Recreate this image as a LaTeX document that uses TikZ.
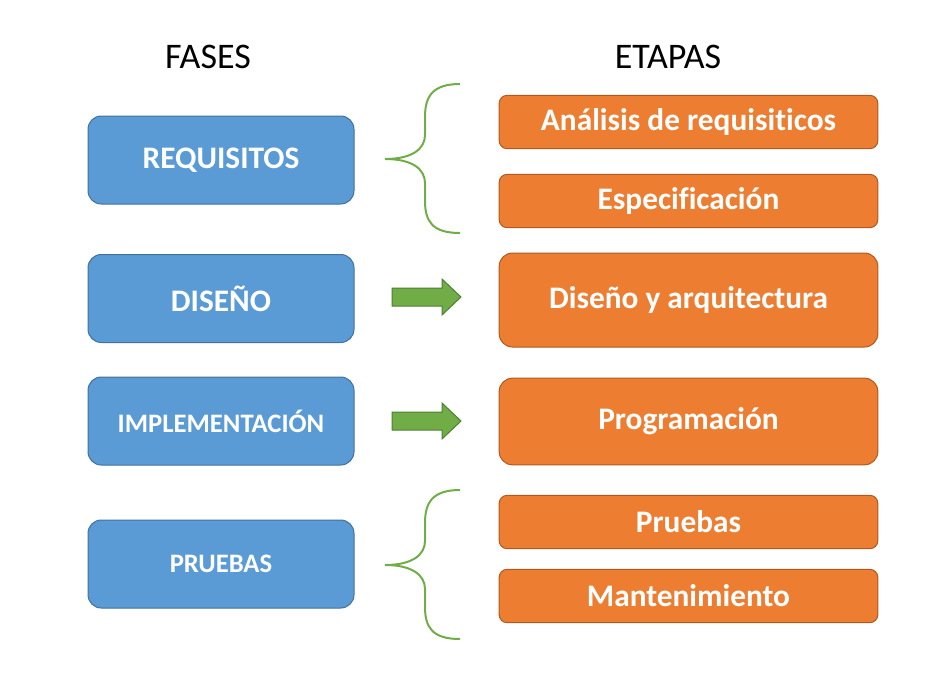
\documentclass[tikz,border=0pt]{standalone}
\usepackage{fontspec}
\setmainfont{Carlito}[Ligatures=NoCommon]
\definecolor{bluefill}{HTML}{5B9BD5}
\definecolor{blueborder}{HTML}{41719C}
\definecolor{orangefill}{HTML}{ED7D31}
\definecolor{orangeborder}{HTML}{AE5A21}
\definecolor{greenfill}{HTML}{70AD47}
\definecolor{greenborder}{HTML}{507E32}
\begin{document}
\begin{tikzpicture}[x=0.75pt, y=-0.75pt,
                          titlenode/.style={anchor=base, font=\fontsize{27}{32}\selectfont},
                          fasenode/.style={rectangle, draw=blueborder, fill=bluefill, line width=0.75pt, rounded corners=10pt, minimum width=199.5pt, minimum height=66pt, text=white, font=\bfseries\fontsize{23.5}{28}\selectfont},
                          fasesmall/.style={fasenode, font=\bfseries\fontsize{20}{24}\selectfont},
                          etapanode/.style={rectangle, draw=orangeborder, fill=orangefill, line width=0.75pt, rounded corners=6pt, minimum width=284pt, minimum height=40pt, text=white, font=\bfseries\fontsize{23.5}{28}\selectfont},
                          etapabig/.style={etapanode, rounded corners=10pt},
                          brace/.style={draw=greenfill, line width=1.5pt},
                          greenarrow/.style={draw=greenborder, fill=greenfill, line width=0.75pt},
                      ]
                      \useasboundingbox (0,0) rectangle (948,692);
                      %Titles
                      \node[titlenode]  (fases)   at (208,69)  {FASES};
                      \node[titlenode]  (etapas)  at (668,69)  {ETAPAS};

                      %Fases
                      \node[fasenode]   (requisitos)      at (221,160)   {REQUISITOS};
                      \node[fasenode]   (diseno)          at (221,298.5) {DISEÑO};
                      \node[fasesmall]  (implementacion)  at (221,421)   {IMPLEMENTACIÓN};
                      \node[fasesmall]  (pruebas)         at (221,564)   {PRUEBAS};

                      %Etapas
                      \node[etapanode]  (analisis)        at (688.5,122)   {Análisis de requisiticos};
                      \node[etapanode]  (especificacion)  at (688.5,201)   {Especificación};
                      \node[etapabig, minimum height=70.5pt] (arquitectura) at (688.5,300) {Diseño y arquitectura};
                      \node[etapabig, minimum height=65pt]   (programacion) at (688.5,421.5) {Programación};
                      \node[etapanode]  (pruebasetapa)    at (688.5,522)   {Pruebas};
                      \node[etapanode]  (mantenimiento)   at (688.5,596)   {Mantenimiento};

                      %Braces
                      \foreach \ty in {159,565}
                        \draw[brace] (460,\ty-75) .. controls (432,\ty-75) and (425,\ty-62) .. (425,\ty-42) -- (425,\ty-24)
                                     .. controls (425,\ty-10) and (412,\ty) .. (385,\ty)
                                     .. controls (412,\ty) and (425,\ty+10) .. (425,\ty+24) -- (425,\ty+42)
                                     .. controls (425,\ty+62) and (432,\ty+74) .. (460,\ty+74);

                      %Arrows
                      \foreach \ay in {297,421}
                        \draw[greenarrow] (392,\ay-9) -- (442,\ay-9) -- (442,\ay-18) -- (461,\ay) -- (442,\ay+18) -- (442,\ay+9) -- (392,\ay+9) -- cycle;
                  \end{tikzpicture}
\end{document}
